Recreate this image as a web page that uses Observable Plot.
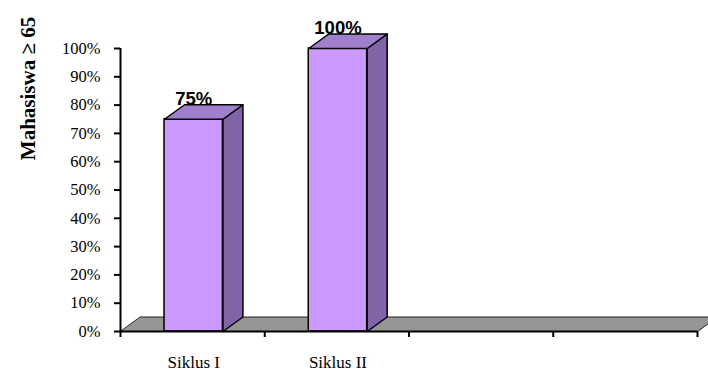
<!DOCTYPE html>
<html><head><meta charset="utf-8">
<script src="https://cdn.jsdelivr.net/npm/d3@7"></script>
<script src="https://cdn.jsdelivr.net/npm/@observablehq/plot@0.6"></script>
<style>body{margin:0;background:#fff}</style>
</head><body><div id="chart"></div>
<script>
// ---- data ----
const categories = ["Siklus I", "Siklus II", "", ""];
const values = [75, 100, null, null];
const valueLabels = ["75%", "100%", "", ""];
const yTicks = [0, 10, 20, 30, 40, 50, 60, 70, 80, 90, 100];
const yTickLabels = ["0%", "10%", "20%", "30%", "40%", "50%", "60%", "70%", "80%", "90%", "100%"];
const yLabel = "Mahasiswa ≥ 65";

// ---- style constants ----
const W = 708, H = 372;
const mL = 120, mR = 11, mT = 48, mB = 41;
const depthX = 20 / (W - mL - mR) * categories.length;   // 3D depth in x units
const depthY = 14.5 / (H - mT - mB) * 100;               // 3D depth in y units
const barStart = 0.305, barEnd = 0.71;
const serif = "'Liberation Serif','Times New Roman',serif";
const sans = "'Liberation Sans',Arial,sans-serif";

const bars = [];
const polys = [];
values.forEach((v, i) => {
  if (v == null) return;
  const x1 = i + barStart, x2 = i + barEnd;
  bars.push({i, v, x1, x2, label: valueLabels[i]});
  [[x1, v], [x2, v], [x2 + depthX, v + depthY], [x1 + depthX, v + depthY]]
    .forEach(([x, y]) => polys.push({id: "top" + i, face: "top", x, y}));
  [[x2, 0], [x2 + depthX, depthY], [x2 + depthX, v + depthY], [x2, v]]
    .forEach(([x, y]) => polys.push({id: "side" + i, face: "side", x, y}));
});
const n = categories.length;
const floor = [[0, 0], [n, 0], [n + depthX, depthY], [depthX, depthY]].map(([x, y]) => ({x, y}));

const chart = Plot.plot({
  width: W, height: H,
  marginLeft: mL, marginRight: mR, marginTop: mT, marginBottom: mB,
  style: {background: "#fff", overflow: "visible"},
  x: {domain: [0, n], axis: null},
  y: {domain: [0, 100], axis: null},
  marks: [
    Plot.line(floor, {x: "x", y: "y", curve: "linear-closed", fill: "#969696", stroke: "#222", strokeWidth: 1}),
    Plot.rect(bars, {x1: "x1", x2: "x2", y1: 0, y2: "v", fill: "#cc99ff", stroke: "#000", strokeWidth: 1.5}),
    Plot.line(polys.filter(d => d.face === "side"), {x: "x", y: "y", z: "id", curve: "linear-closed", fill: "#8064a8", stroke: "#000", strokeWidth: 1.5}),
    Plot.line(polys.filter(d => d.face === "top"), {x: "x", y: "y", z: "id", curve: "linear-closed", fill: "#a07fcc", stroke: "#000", strokeWidth: 1.5}),
    Plot.ruleX([0], {y1: 0, y2: 100, stroke: "#000", strokeWidth: 2}),
    Plot.ruleY([0], {x1: 0, x2: n, stroke: "#000", strokeWidth: 2}),
    Plot.axisY({ticks: yTicks, tickFormat: d => yTickLabels[yTicks.indexOf(d)], tickSize: 6, tickPadding: 14,
      strokeWidth: 2, stroke: "#000", fontSize: 16.5, fontFamily: serif, fill: "#000", label: null}),
    Plot.axisX({ticks: d3.range(n + 1), tickFormat: () => "", tickSize: 6, strokeWidth: 2, stroke: "#000", label: null}),
    Plot.axisX({ticks: categories.map((c, i) => i + (barStart + barEnd) / 2), tickFormat: d => categories[Math.floor(d)],
      tickSize: 0, tickPadding: 24, fontSize: 17, fontFamily: serif, fill: "#000", label: null}),
    Plot.text(bars, {x: d => (d.x1 + d.x2) / 2, y: d => d.v + depthY, text: "label", lineAnchor: "bottom", dy: 0,
      fontSize: 18.5, fontWeight: "bold", fontFamily: sans, fill: "#000"}),
    Plot.text([yLabel], {frameAnchor: "top-left", dx: -100, dy: 40, rotate: -90, text: d => d, textAnchor: "middle",
      fontSize: 21, fontWeight: "bold", fontFamily: serif, fill: "#000"})
  ]
});
document.getElementById("chart").appendChild(chart);
</script>
</body></html>
